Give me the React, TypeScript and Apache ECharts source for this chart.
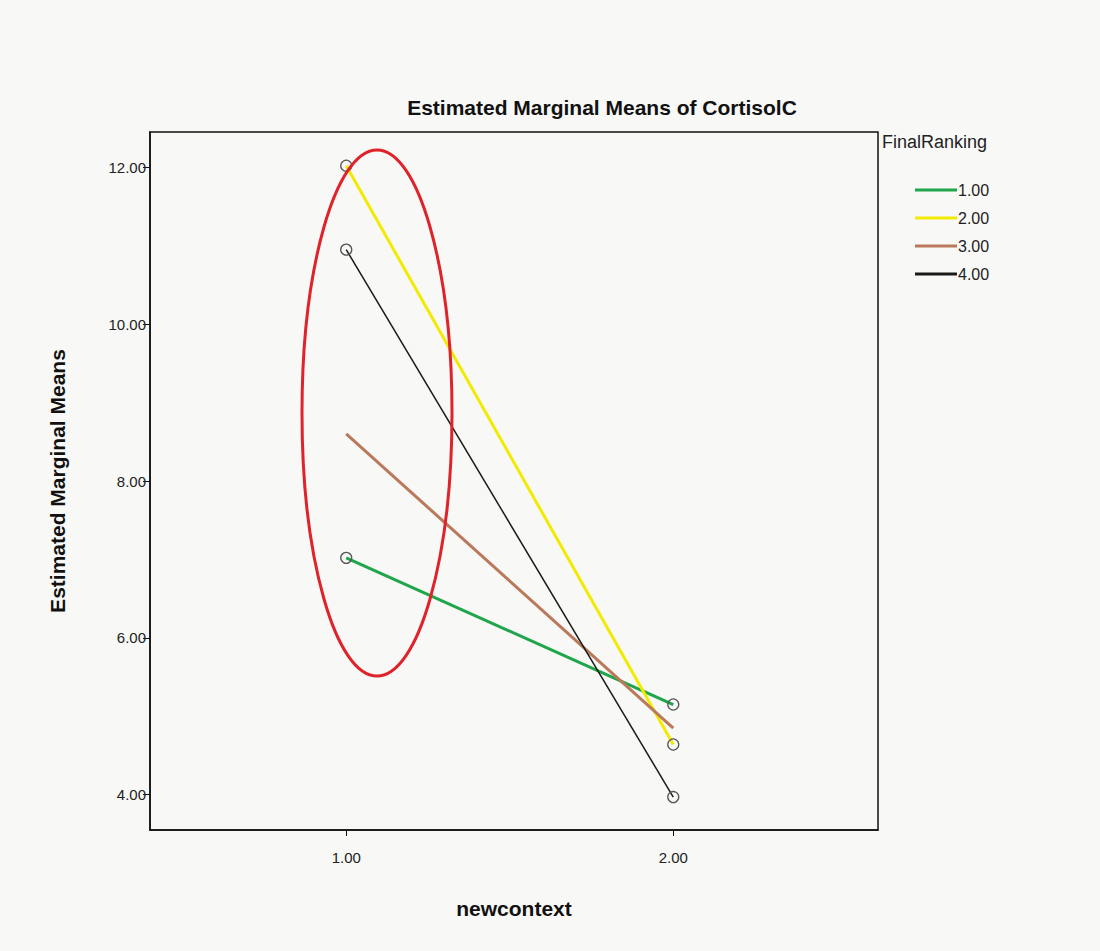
import React, { useEffect, useRef } from "react";
import * as echarts from "echarts";

const xValues = [1, 2];
const seriesNames = ["1.00", "2.00", "3.00", "4.00"];
const rank1 = [7.02, 5.15];
const rank2 = [12.02, 4.64];
const rank3 = [8.6, 4.85];
const rank4 = [10.95, 3.97];
const yTicks = [4, 6, 8, 10, 12];
const xTicks = [1, 2];
const colors = ["#1fa64a", "#f2ea00", "#b9795a", "#1a1a1a"];

export default function App() {
  const ref = useRef<HTMLDivElement>(null);
  useEffect(() => {
    const chart = echarts.init(ref.current!, null, { renderer: "svg" });
    const dataSets = [rank1, rank2, rank3, rank4];
    const font = "'Liberation Sans', Arial, sans-serif";
    chart.setOption({
      animation: false,
      backgroundColor: "#f8f8f7",
      title: {
        text: "Estimated Marginal Means of CortisolC",
        left: 597,
        textAlign: "center",
        top: 92,
        textStyle: { fontFamily: font, fontSize: 21, fontWeight: "bold", color: "#111" },
      },
      legend: {
        data: seriesNames.map((n, i) => ({
          name: n,
          itemStyle: { color: colors[i], borderWidth: 0 },
        })),
        left: 910,
        top: 176,
        orient: "vertical",
        icon: "rect",
        itemWidth: 42,
        itemHeight: 3,
        itemGap: 10,
        textStyle: { fontFamily: font, fontSize: 16, color: "#222", lineHeight: 18, padding: [0, 0, 0, -4] },
      },
      grid: {
        left: 150,
        right: 222,
        top: 132,
        bottom: 121,
        show: true,
        borderColor: "#111",
        borderWidth: 1.5,
        backgroundColor: "transparent",
      },
      xAxis: {
        type: "value",
        min: 0.4,
        max: 2.626,
        name: "newcontext",
        nameLocation: "middle",
        nameGap: 68,
        nameTextStyle: { fontFamily: font, fontSize: 21, fontWeight: "bold", color: "#111" },
        axisLine: { lineStyle: { color: "#111", width: 1.5 } },
        axisTick: { show: true, customValues: xTicks, length: 6, lineStyle: { color: "#111" } },
        axisLabel: {
          customValues: xTicks,
          formatter: (v: number) => v.toFixed(2),
          fontFamily: font,
          fontSize: 15,
          color: "#222",
          margin: 20,
        },
        splitLine: { show: false },
      },
      yAxis: {
        type: "value",
        min: 3.55,
        max: 12.45,
        name: "Estimated Marginal Means",
        nameLocation: "middle",
        nameGap: 82,
        nameTextStyle: { fontFamily: font, fontSize: 21, fontWeight: "bold", color: "#111" },
        axisLine: { show: true, lineStyle: { color: "#111", width: 1.5 } },
        axisTick: { show: true, customValues: yTicks, length: 7, lineStyle: { color: "#111" } },
        axisLabel: {
          customValues: yTicks,
          formatter: (v: number) => v.toFixed(2),
          fontFamily: font,
          fontSize: 15,
          color: "#222",
          margin: 4,
        },
        splitLine: { show: false },
      },
      series: dataSets.map((d, i) => ({
        name: seriesNames[i],
        type: "line",
        data: xValues.map((x, j) => [x, d[j]]),
        symbol: i === 2 ? "none" : "circle",
        symbolSize: 11,
        showSymbol: true,
        itemStyle: { color: "transparent", borderColor: "#555", borderWidth: 1.3 },
        lineStyle: { color: colors[i], width: i === 3 ? 1.5 : 3 },
        color: colors[i],
        z: 3,
      })),
      graphic: [
        {
          type: "text",
          left: 882,
          top: 133,
          style: { text: "FinalRanking", fontFamily: font, fontSize: 18, fill: "#222" },
        },
        {
          type: "ellipse",
          shape: { cx: 377, cy: 413, rx: 75, ry: 263 },
          style: { fill: "none", stroke: "#e0222a", lineWidth: 3 },
          z: 10,
        },
      ],
    });
    return () => chart.dispose();
  }, []);
  return (
    <div
      ref={ref}
      style={{ width: 1100, height: 951, position: "absolute", left: 0, top: 0 }}
    />
  );
}
